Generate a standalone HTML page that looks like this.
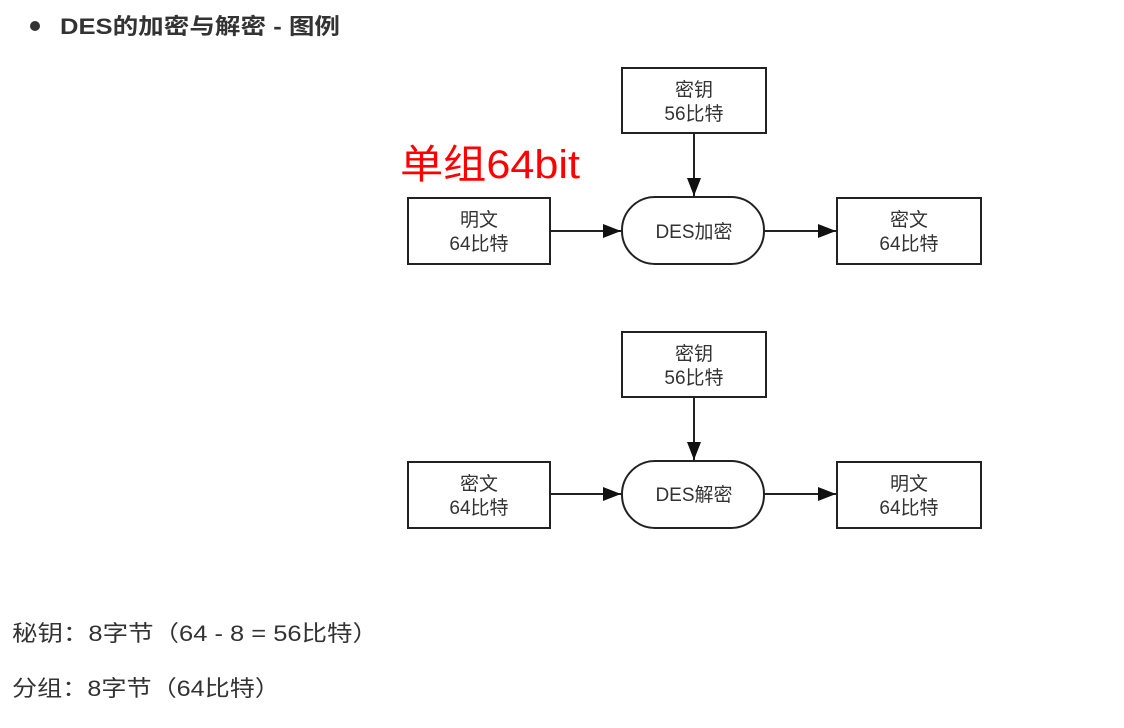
<!DOCTYPE html>
<html><head><meta charset="utf-8"><style>
body{margin:0;background:#fff;width:1124px;height:728px;overflow:hidden}
svg{display:block}
.t{font-family:"Liberation Sans","Noto Sans CJK SC",sans-serif}
</style></head><body>
<svg width="1124" height="728" viewBox="0 0 1124 728" class="t">
<defs><marker id="b" markerWidth="20" markerHeight="14" refX="18" refY="7" orient="auto" markerUnits="userSpaceOnUse"><path d="M0,0 L18,7 L0,14 Z" fill="#111"/></marker></defs>
<circle cx="35" cy="26" r="5" fill="#333"/>
<text x="60" y="34" font-size="22" font-weight="bold" fill="#333" textLength="280" lengthAdjust="spacingAndGlyphs">DES的加密与解密 - 图例</text>
<text x="400" y="178" font-size="40" fill="#f00" textLength="180" lengthAdjust="spacingAndGlyphs">单组64bit</text>
<g stroke="#222" stroke-width="2" fill="none">
<rect x="622" y="68" width="144" height="65"/>
<rect x="408" y="198" width="142" height="66"/>
<rect x="622" y="197" width="142" height="67" rx="33"/>
<rect x="837" y="198" width="144" height="66"/>
<line x1="694" y1="133" x2="694" y2="196" marker-end="url(#b)"/>
<line x1="550" y1="231" x2="621" y2="231" marker-end="url(#b)"/>
<line x1="764" y1="231" x2="836" y2="231" marker-end="url(#b)"/>
<rect x="622" y="332" width="144" height="65"/>
<rect x="408" y="462" width="142" height="66"/>
<rect x="622" y="461" width="142" height="67" rx="33"/>
<rect x="837" y="462" width="144" height="66"/>
<line x1="694" y1="397" x2="694" y2="460" marker-end="url(#b)"/>
<line x1="550" y1="494" x2="621" y2="494" marker-end="url(#b)"/>
<line x1="764" y1="494" x2="836" y2="494" marker-end="url(#b)"/>
</g>
<g font-size="19" fill="#333" text-anchor="middle">
<text x="694" y="96">密钥</text><text x="694" y="120">56比特</text>
<text x="479" y="226">明文</text><text x="479" y="250">64比特</text>
<text x="694" y="238">DES加密</text>
<text x="909" y="226">密文</text><text x="909" y="250">64比特</text>
<text x="694" y="360">密钥</text><text x="694" y="384">56比特</text>
<text x="479" y="490">密文</text><text x="479" y="514">64比特</text>
<text x="694" y="501">DES解密</text>
<text x="909" y="490">明文</text><text x="909" y="514">64比特</text>
</g>
<text x="12" y="641" font-size="22" fill="#333" textLength="366" lengthAdjust="spacingAndGlyphs">秘钥：8字节（64 - 8 = 56比特）</text>
<text x="12" y="696" font-size="22" fill="#333" textLength="268" lengthAdjust="spacingAndGlyphs">分组：8字节（64比特）</text>
</svg>
</body></html>
